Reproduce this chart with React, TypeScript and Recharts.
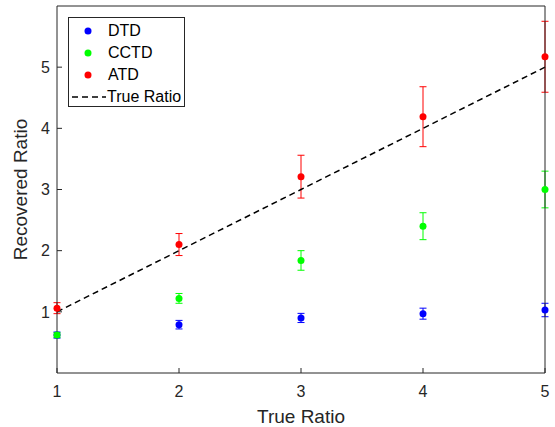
import { ComposedChart, Scatter, Line, XAxis, YAxis, ErrorBar, Legend, Label } from 'recharts'

const trueRatios = [1, 2, 3, 4, 5]
const seriesNames = ['DTD', 'CCTD', 'ATD', 'True Ratio']
const dtdMean = [0.62, 0.79, 0.9, 0.97, 1.03]
const dtdErr = [0.05, 0.07, 0.075, 0.09, 0.11]
const cctdMean = [0.62, 1.22, 1.84, 2.4, 3.0]
const cctdErr = [0.04, 0.08, 0.16, 0.22, 0.3]
const atdMean = [1.06, 2.1, 3.21, 4.19, 5.17]
const atdErr = [0.09, 0.18, 0.35, 0.49, 0.58]
const yTicks = [1, 2, 3, 4, 5]

const toPoints = (means: number[], errs: number[]) =>
  trueRatios.map((x, i) => ({ x, y: means[i], err: errs[i] }))

const dtdData = toPoints(dtdMean, dtdErr)
const cctdData = toPoints(cctdMean, cctdErr)
const atdData = toPoints(atdMean, atdErr)
const trueLine = trueRatios.map((x) => ({ x, y: x }))

const AXIS = '#262626'

const dot = (color: string) => (props: any) => (
  <circle cx={props.cx} cy={props.cy} r={3.5} fill={color} />
)

const XTitle = ({ viewBox }: any) => (
  <text x={viewBox.x + viewBox.width / 2} y={422.5} textAnchor="middle" fontSize={19} fill={AXIS}>
    True Ratio
  </text>
)

const YTitle = ({ viewBox }: any) => {
  const cx = 27
  const cy = viewBox.y + viewBox.height / 2
  return (
    <text x={cx} y={cy} transform={`rotate(-90 ${cx} ${cy})`} textAnchor="middle" fontSize={19} fill={AXIS}>
      Recovered Ratio
    </text>
  )
}

// recharts sorts legend items by name, put them back in plot order
const LegendBox = ({ payload }: any) => {
  const items = [...(payload || [])].sort(
    (a: any, b: any) => seriesNames.indexOf(a.value) - seriesNames.indexOf(b.value)
  )
  return (
    <div style={{ width: 117, height: 90, boxSizing: 'border-box', border: `1px solid ${AXIS}`, background: '#fff', paddingTop: 2 }}>
      {items.map((entry: any) => (
        <div key={entry.value} style={{ display: 'flex', alignItems: 'center', height: 22 }}>
          <svg width={38} height={22} style={{ flex: 'none' }}>
            {entry.type === 'plainline' ? (
              <line x1={3} y1={11} x2={37} y2={11} stroke="#000" strokeWidth={1.5} strokeDasharray="6 4" />
            ) : (
              <circle cx={19} cy={11} r={3.5} fill={entry.color} />
            )}
          </svg>
          <span style={{ fontSize: 16, color: '#000', marginLeft: entry.type === 'plainline' ? 0 : 1, lineHeight: '22px' }}>{entry.value}</span>
        </div>
      ))}
    </div>
  )
}

export default function App() {
  return (
    <div style={{ position: 'absolute', left: 0, top: 0, width: 555, height: 427, background: '#fff', fontFamily: '"Liberation Sans", Arial, sans-serif' }}>
      <ComposedChart width={555} height={427} margin={{ top: 5, right: 9, bottom: 0, left: 0 }}>
        <XAxis
          dataKey="x" type="number" domain={[1, 5]} ticks={trueRatios}
          height={54} tickSize={-5} tickMargin={18}
          stroke={AXIS} tick={{ fontSize: 16, fill: AXIS }}
        >
          <Label content={XTitle} />
        </XAxis>
        <XAxis
          xAxisId="top" orientation="top" type="number" domain={[1, 5]} ticks={trueRatios}
          height={1} tickSize={-5} tick={false} stroke={AXIS}
        />
        <YAxis
          dataKey="y" type="number" domain={[0, 6]} ticks={yTicks}
          width={57} tickSize={-5} tickMargin={12}
          stroke={AXIS} tick={{ fontSize: 16, fill: AXIS }}
        >
          <Label content={YTitle} />
        </YAxis>
        <YAxis
          yAxisId="right" orientation="right" type="number" domain={[0, 6]} ticks={yTicks}
          width={1} tickSize={-5} tick={false} stroke={AXIS}
        />
        <Scatter name="DTD" data={dtdData} dataKey="y" fill="#0000ff" legendType="circle" shape={dot('#0000ff')} isAnimationActive={false}>
          <ErrorBar dataKey="err" direction="y" width={3.5} stroke="#0000ff" strokeWidth={1} isAnimationActive={false} />
        </Scatter>
        <Scatter name="CCTD" data={cctdData} dataKey="y" fill="#00ff00" legendType="circle" shape={dot('#00ff00')} isAnimationActive={false}>
          <ErrorBar dataKey="err" direction="y" width={3.5} stroke="#00ff00" strokeWidth={1} isAnimationActive={false} />
        </Scatter>
        <Scatter name="ATD" data={atdData} dataKey="y" fill="#ff0000" legendType="circle" shape={dot('#ff0000')} isAnimationActive={false}>
          <ErrorBar dataKey="err" direction="y" width={3.5} stroke="#ff0000" strokeWidth={1} isAnimationActive={false} />
        </Scatter>
        <Line
          name="True Ratio" data={trueLine} dataKey="y" type="linear"
          stroke="#000" strokeWidth={1.5} strokeDasharray="6 4" dot={false}
          legendType="plainline" isAnimationActive={false}
        />
        <Legend
          layout="vertical" align="center" verticalAlign="middle"
          content={LegendBox}
          wrapperStyle={{ left: 68, top: 17, width: 117, height: 90 }}
        />
      </ComposedChart>
    </div>
  )
}
